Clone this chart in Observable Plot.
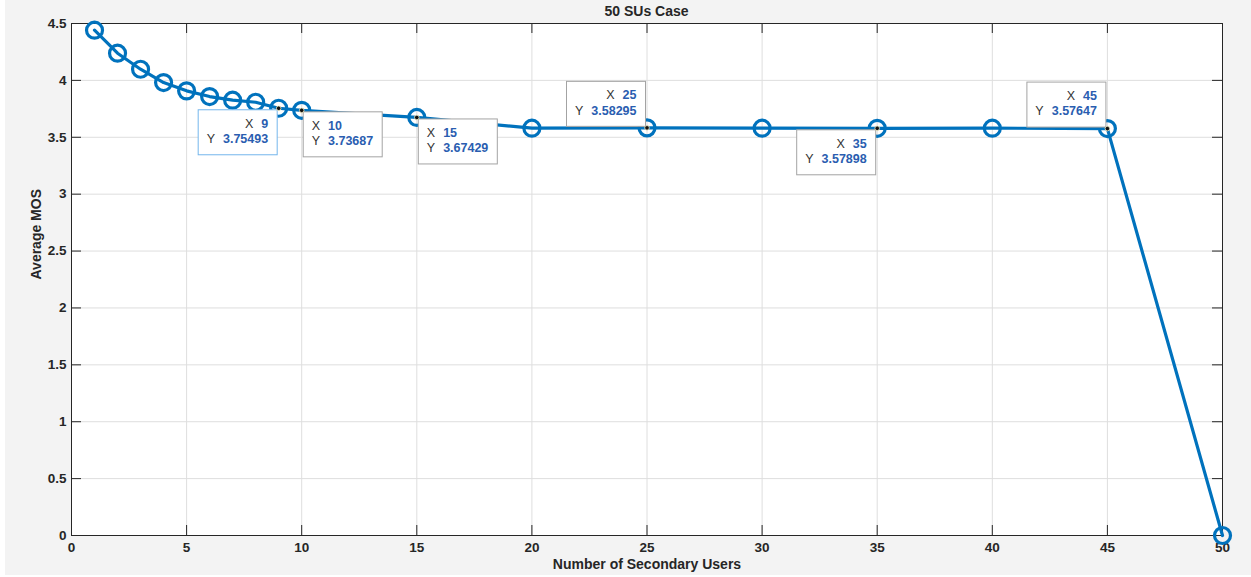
<!DOCTYPE html>
<html>
<head>
<meta charset="utf-8">
<script src="https://cdn.jsdelivr.net/npm/d3@7"></script>
<script src="https://cdn.jsdelivr.net/npm/@observablehq/plot@0.6"></script>
<style>
  html, body { margin: 0; padding: 0; background: #ffffff; }
  #fig {
    position: absolute; left: 5px; top: 0; width: 1246px; height: 575px;
    background: #f3f3f3; font-family: "Liberation Sans", Arial, sans-serif;
  }
  #title {
    height: 21px; box-sizing: border-box; padding: 4px 29px 0 66px;
    text-align: center; font-weight: bold; font-size: 14px; color: #262626; line-height: 15px;
  }
  #fig svg { display: block; }
</style>
</head>
<body>
<div id="fig">
  <div id="title">50 SUs Case</div>
  <div id="chart"></div>
</div>
<script>
// Number of secondary users and the resulting average MOS
const users = [1, 2, 3, 4, 5, 6, 7, 8, 9, 10, 15, 20, 25, 30, 35, 40, 45, 50];
const mos = [4.441, 4.239, 4.098, 3.981, 3.908, 3.858, 3.826, 3.808, 3.75493, 3.73687,
             3.67429, 3.580, 3.58295, 3.580, 3.57898, 3.580, 3.57647, 0];

// Points carrying a data tip, and which corner of the tip box sits on the point
const tipUsers = [9, 10, 15, 25, 35, 45];
const tipMos = [3.75493, 3.73687, 3.67429, 3.58295, 3.57898, 3.57647];
const tipCorner = ["top-right", "top-left", "top-left", "bottom-right", "top-right", "bottom-right"];
const tipSelected = [true, false, false, false, false, false];

// Axis ticks
const xTicks = d3.range(0, 51, 5);
const yTicks = d3.range(0, 4.51, 0.5).map(v => +v.toFixed(1));

const series = users.map((u, i) => ({u, m: mos[i]}));
const tips = tipUsers.map((u, i) => ({u, m: tipMos[i], corner: tipCorner[i], selected: tipSelected[i]}));

const W = 1246, H = 554;
const mL = 66, mR = 29, mT = 2, mB = 40;
const innerW = W - mL - mR, innerH = H - mT - mB;
const tick = 10;
const font = "'Liberation Sans', Arial, sans-serif";
const axisColor = "#262626";
const lineColor = "#0072BD";

// Data tip boxes: white boxes with "X"/"Y" labels and bold blue values
function dataTips(index, scales) {
  const g = d3.create("svg:g").attr("font-family", font).attr("font-size", 12.5);
  const boxW = 79, boxH = 45, pad = 8.5, gap = 8;
  for (const t of tips) {
    const px = scales.x(t.u), py = scales.y(t.m);
    const [vert, horiz] = t.corner.split("-");
    const bx = horiz === "left" ? px + 1.5 : px - 1.5 - boxW;
    const by = vert === "top" ? py + 1.5 : py - 1.5 - boxH;
    g.append("rect")
      .attr("x", bx + 0.5).attr("y", by + 0.5)
      .attr("width", boxW).attr("height", boxH)
      .attr("fill", "white")
      .attr("stroke", t.selected ? "#74b6ec" : "#a3a3a3")
      .attr("stroke-width", 1);
    const rows = [["X", String(t.u)], ["Y", String(t.m)]];
    rows.forEach(([lab, val], r) => {
      const text = g.append("text")
        .attr("y", by + 14 + r * 15.5)
        .attr("dy", "0.35em");
      if (horiz === "left") {
        text.attr("x", bx + pad + 0.5).attr("text-anchor", "start");
      } else {
        text.attr("x", bx + boxW - pad).attr("text-anchor", "end");
      }
      text.append("tspan").attr("fill", "#333333").text(lab);
      text.append("tspan").attr("dx", gap).attr("fill", "#2a5db0")
        .attr("font-weight", "bold").text(val);
    });
  }
  return g.node();
}

const chart = Plot.plot({
  width: W,
  height: H,
  marginLeft: mL,
  marginRight: mR,
  marginTop: mT,
  marginBottom: mB,
  style: {background: "#f3f3f3", fontFamily: font, color: axisColor, overflow: "visible"},
  x: {domain: [0, 50]},
  y: {domain: [0, 4.5]},
  marks: [
    Plot.frame({fill: "white"}),
    Plot.gridX(xTicks, {stroke: "#dedede", strokeOpacity: 1}),
    Plot.gridY(yTicks, {stroke: "#dedede", strokeOpacity: 1}),
    // inward ticks on all four sides
    Plot.tickX(xTicks, {x: d => d, stroke: axisColor, insetTop: innerH - tick}),
    Plot.tickX(xTicks, {x: d => d, stroke: axisColor, insetBottom: innerH - tick}),
    Plot.tickY(yTicks, {y: d => d, stroke: axisColor, insetRight: innerW - tick}),
    Plot.tickY(yTicks, {y: d => d, stroke: axisColor, insetLeft: innerW - tick}),
    Plot.frame({stroke: axisColor, strokeWidth: 1}),
    Plot.axisX({ticks: xTicks, tickSize: 0, tickPadding: 7, tickFormat: d => String(d),
      label: null, fontSize: 13.5, fontWeight: "bold", fill: axisColor}),
    Plot.axisY({ticks: yTicks, tickSize: 0, tickPadding: 5, tickFormat: d => String(d),
      label: null, fontSize: 13.5, fontWeight: "bold", fill: axisColor}),
    Plot.text(["Number of Secondary Users"], {frameAnchor: "bottom", dy: 33,
      fontSize: 14, fontWeight: "bold", fill: axisColor}),
    Plot.text(["Average MOS"], {frameAnchor: "left", dx: -35, rotate: -90,
      fontSize: 14, fontWeight: "bold", fill: axisColor}),
    Plot.line(series, {x: "u", y: "m", stroke: lineColor, strokeWidth: 3.2}),
    Plot.dot(series, {x: "u", y: "m", r: 8, stroke: lineColor, strokeWidth: 3.2, fill: "none"}),
    dataTips,
    Plot.dot(tips, {x: "u", y: "m", r: 2.3, fill: "#111111", stroke: "#f4efc4", strokeWidth: 0.8})
  ]
});

document.getElementById("chart").appendChild(chart);
</script>
</body>
</html>
